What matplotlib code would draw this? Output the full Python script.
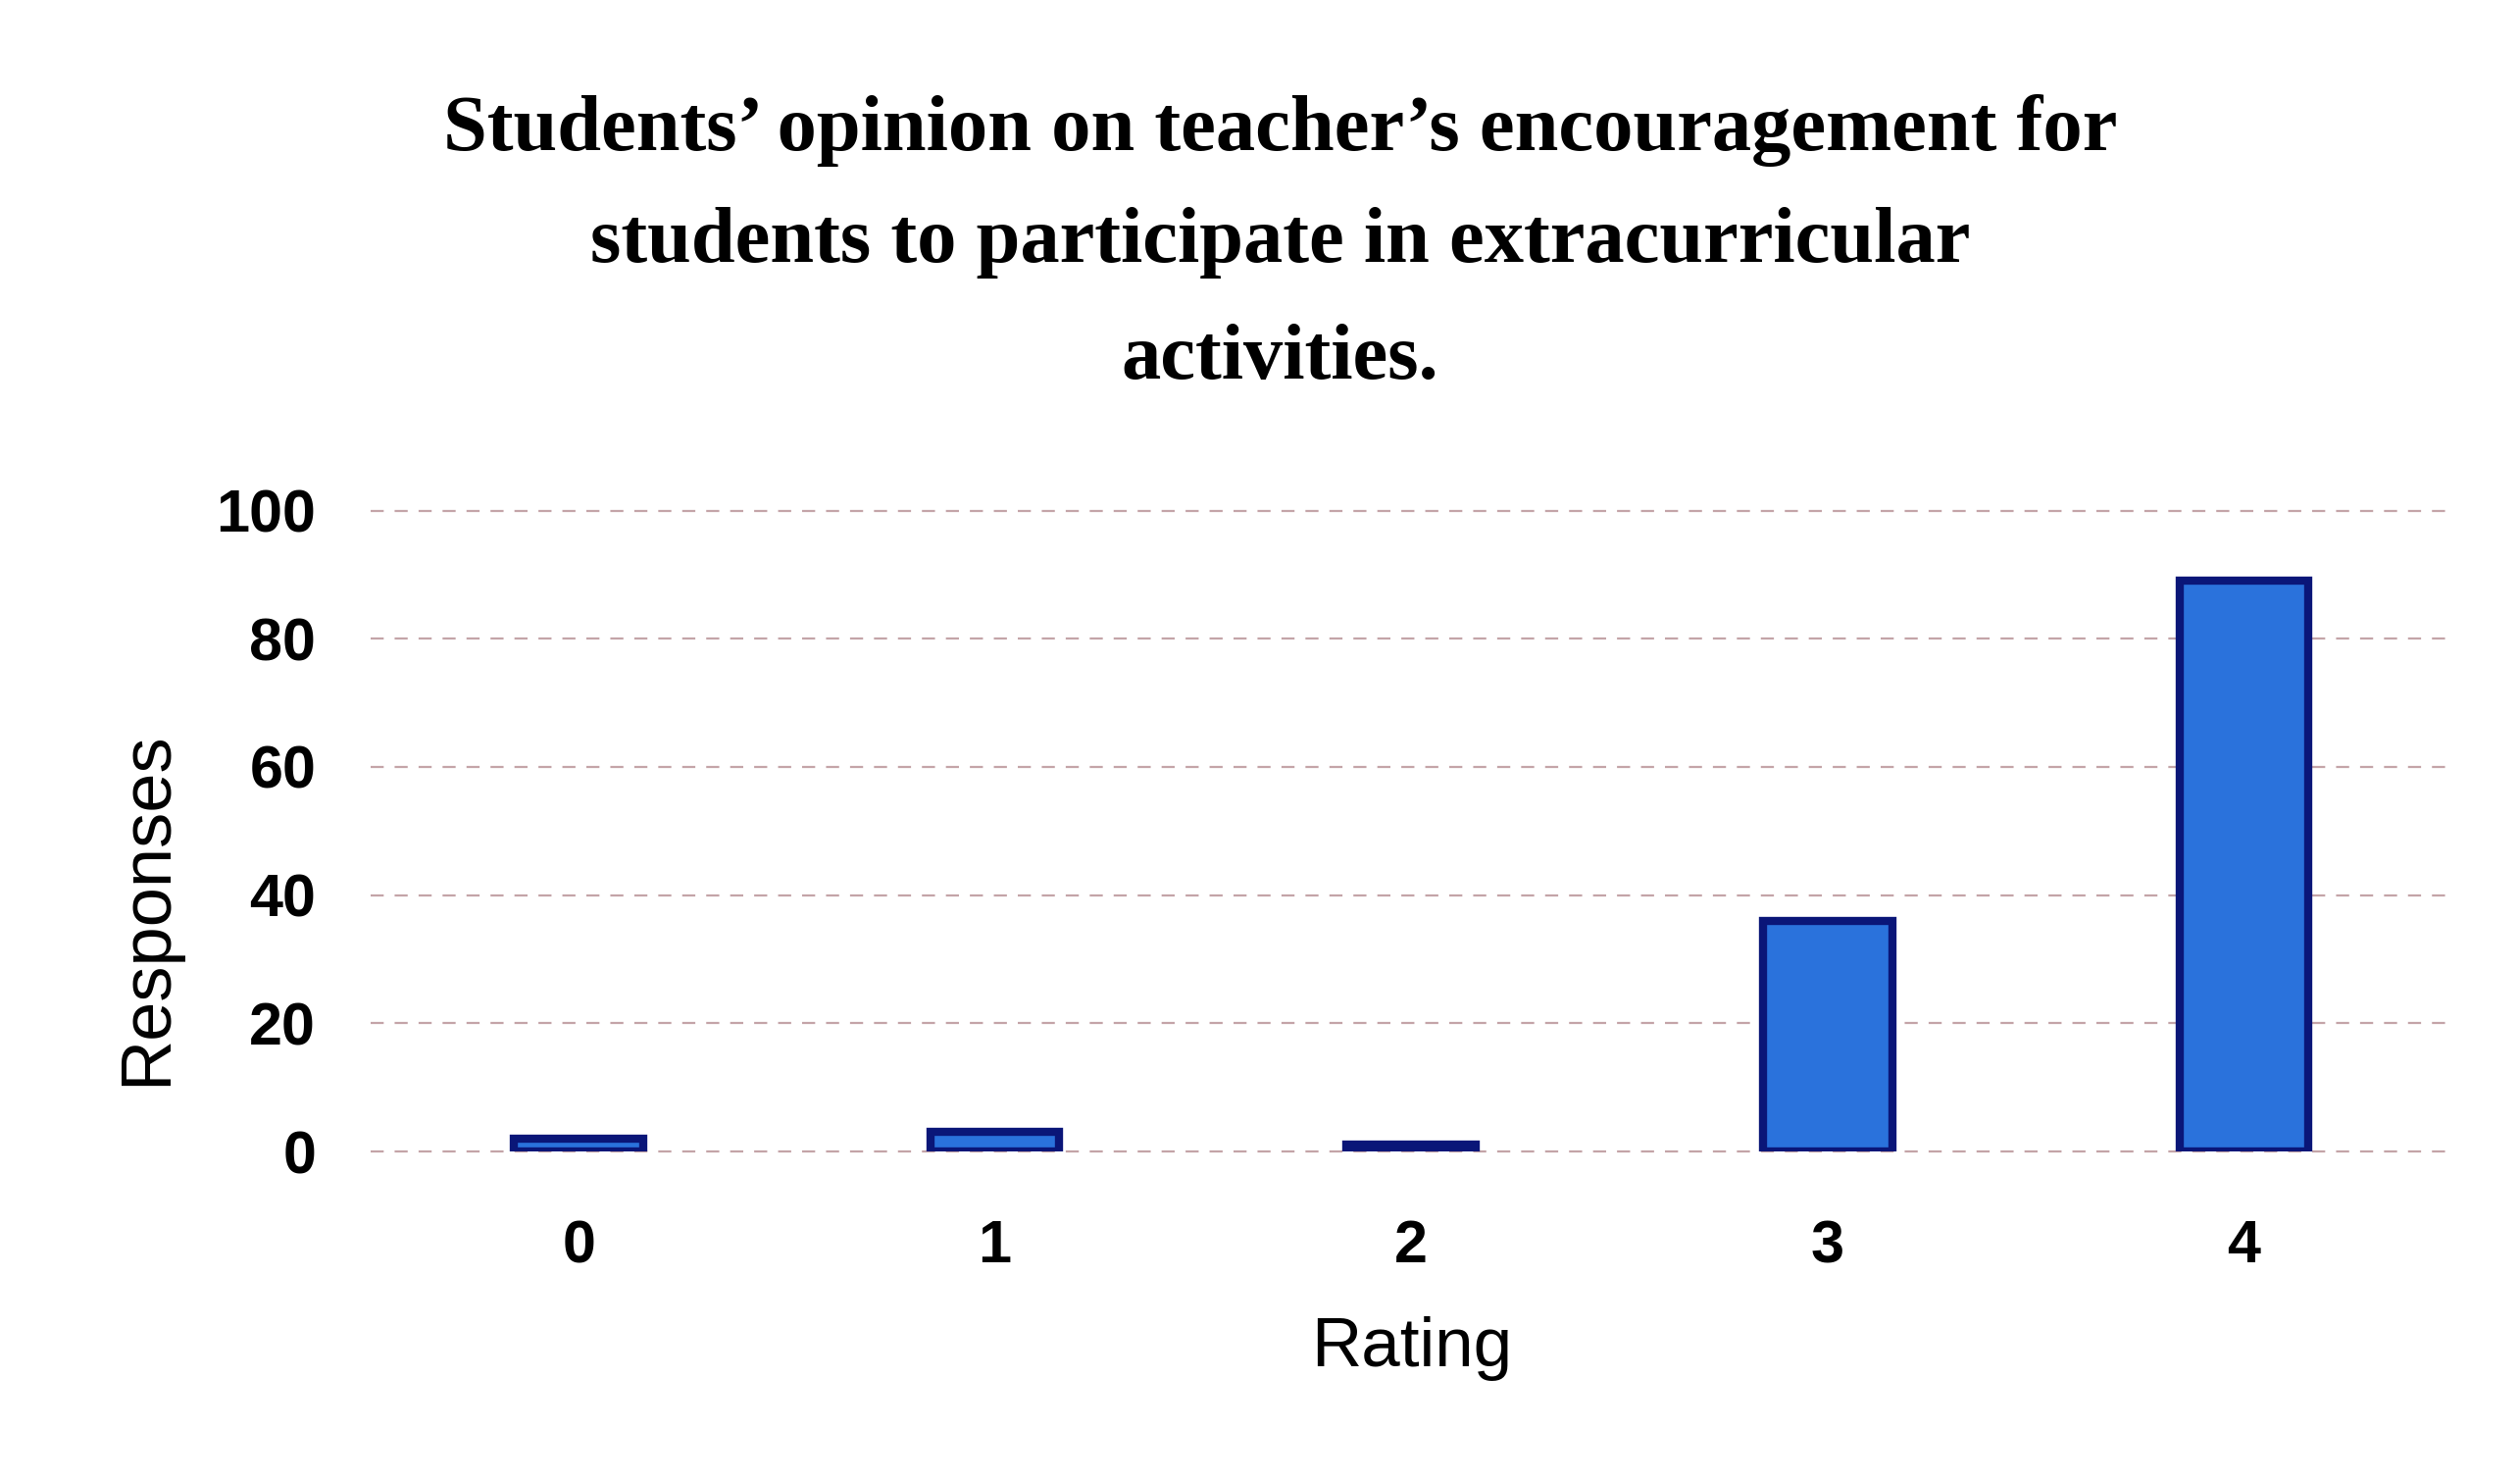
import matplotlib
matplotlib.use("Agg")
import matplotlib.pyplot as plt

ratings = ["0", "1", "2", "3", "4"]
responses = [2, 3, 1, 36, 89]
y_ticks = [0, 20, 40, 60, 80, 100]
title_lines = ["Students\u2019 opinion on teacher\u2019s encouragement for",
               "students to participate in extracurricular",
               "activities."]
x_label = "Rating"
y_label = "Responses"

fig = plt.figure(figsize=(25.70, 15.09), dpi=100)
ax = fig.add_axes([0.147, 0.222, 0.826, 0.433])

x = list(range(len(ratings)))
ax.bar(x, responses, width=0.31, color="#2a72dc", edgecolor="#0a1678",
       linewidth=6, zorder=3)

ax.set_xlim(-0.5, 4.5)
ax.set_ylim(0, 100)
ax.set_yticks(y_ticks)
ax.set_xticks(x)
ax.set_xticklabels(ratings)
for yv in y_ticks:
    ax.axhline(yv, color="#c4a4a8", linewidth=1.6, linestyle=(0, (6, 5)),
               zorder=1, clip_on=False)
for s in ax.spines.values():
    s.set_visible(False)
ax.tick_params(axis="both", length=0, labelsize=44)
ax.tick_params(axis="x", pad=50)
ax.tick_params(axis="y", pad=40)
for lab in ax.get_xticklabels() + ax.get_yticklabels():
    lab.set_fontweight("bold")
    lab.set_fontfamily("Liberation Sans")

ax.set_xlabel(x_label, fontsize=51, fontfamily="Liberation Sans", labelpad=30)
ax.set_ylabel(y_label, fontsize=52, fontfamily="Liberation Sans")
ax.yaxis.set_label_coords(-0.091, 0.38)

ys = [0.912, 0.836, 0.757]
for t, yy in zip(title_lines, ys):
    fig.text(0.508, yy, t, ha="center", va="center", fontsize=58,
             fontweight="bold", fontfamily="Liberation Serif")

fig.savefig("out.png", dpi=100, facecolor="white")
